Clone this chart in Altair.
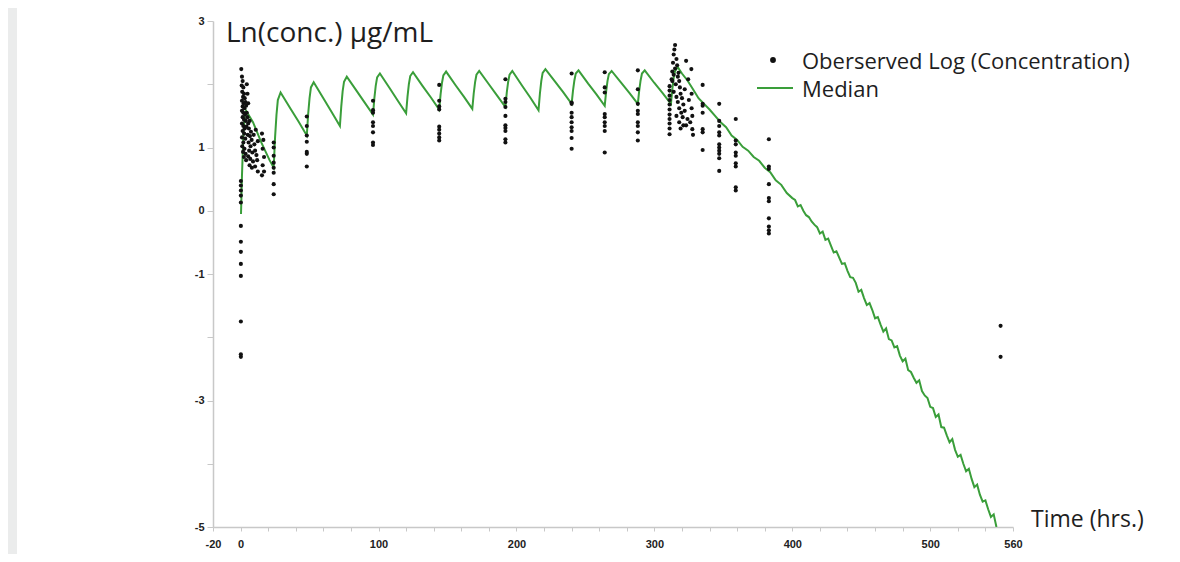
import altair as alt
import pandas as pd

GREEN = "#3a9e3a"
DOT = "#111111"
TXT = "#1e1e1e"

# ---------------- Median curve ----------------
dose_t = [0.3, 1, 2, 3, 4, 9, 15, 21, 24,
          25, 26, 27, 29, 36, 42, 48,
          49, 50, 51, 53, 60, 66, 72,
          73, 74, 75, 77, 84, 90, 96,
          97, 98, 99, 101, 108, 114, 120,
          121, 122, 123, 125, 132, 138, 144,
          145, 146, 147, 149, 156, 162, 168,
          169, 170, 171, 173, 180, 186, 192,
          193, 194, 195, 197, 204, 210, 216,
          217, 218, 219, 221, 228, 234, 240,
          241, 242, 243, 245, 252, 258, 264,
          265, 266, 267, 269, 276, 282, 288,
          289, 290, 291, 293, 300, 306, 312,
          313, 314, 315, 317]
dose_v = [-0.05, 0.55, 1.20, 1.50, 1.58, 1.40, 1.08, 0.80, 0.68,
          1.16, 1.51, 1.75, 1.87, 1.62, 1.41, 1.19,
          1.53, 1.78, 1.95, 2.03, 1.78, 1.56, 1.34,
          1.65, 1.89, 2.04, 2.12, 1.90, 1.71, 1.52,
          1.78, 1.98, 2.11, 2.17, 1.94, 1.74, 1.54,
          1.80, 2.00, 2.13, 2.19, 1.97, 1.79, 1.60,
          1.84, 2.02, 2.14, 2.20, 1.98, 1.80, 1.61,
          1.85, 2.03, 2.15, 2.21, 2.00, 1.82, 1.64,
          1.87, 2.04, 2.15, 2.21, 1.98, 1.79, 1.59,
          1.85, 2.05, 2.18, 2.24, 2.04, 1.87, 1.69,
          1.90, 2.06, 2.17, 2.22, 2.01, 1.84, 1.66,
          1.88, 2.05, 2.16, 2.21, 2.02, 1.86, 1.69,
          1.90, 2.06, 2.17, 2.22, 2.02, 1.86, 1.69,
          1.92, 2.10, 2.21, 2.27]

elim_t = [320, 324, 328, 332, 336, 340, 344, 348, 352, 356,
          360, 364, 368, 372, 376, 380, 384, 388, 392, 396,
          400, 402, 404, 406, 408, 410, 412, 414, 416, 418,
          420, 422, 424, 426, 428, 430, 432, 434, 436, 438,
          440, 442, 444, 446, 448, 450, 452, 454, 456, 458,
          460, 462, 464, 466, 468, 470, 472, 474, 476, 478,
          480, 482, 484, 486, 488, 490, 492, 494, 496, 498,
          500, 502, 504, 506, 508, 510, 512, 514, 516, 518,
          520, 522, 524, 526, 528, 530, 532, 534, 536, 538,
          540, 542, 544, 546, 548]
elim_v = [2.17, 2.06, 1.92, 1.78, 1.69, 1.60, 1.50, 1.40, 1.32, 1.19,
          1.12, 1.01, 0.95, 0.85, 0.79, 0.68, 0.61, 0.48, 0.41, 0.28,
          0.20, 0.17, 0.07, 0.09, 0.00, -0.07, -0.10, -0.17, -0.22, -0.26,
          -0.36, -0.33, -0.46, -0.44, -0.55, -0.66, -0.64, -0.74, -0.84, -0.83,
          -0.95, -1.05, -1.06, -1.14, -1.28, -1.25, -1.38, -1.49, -1.46, -1.57,
          -1.70, -1.68, -1.80, -1.91, -1.86, -2.03, -2.05, -2.16, -2.14, -2.29,
          -2.38, -2.34, -2.52, -2.55, -2.64, -2.72, -2.68, -2.85, -2.92, -2.96,
          -3.10, -3.12, -3.26, -3.22, -3.42, -3.43, -3.55, -3.66, -3.61, -3.78,
          -3.89, -3.86, -4.00, -4.12, -4.08, -4.24, -4.37, -4.33, -4.49, -4.60,
          -4.58, -4.72, -4.84, -4.80, -5.00]

# ---------------- Observed points ----------------
first_t = [0.5, 1.0, 1.5, 0.8, 2.0, 1.2, 2.5, 1.8, 3.0, 1.0, 2.2, 3.5, 1.5, 2.8, 4.0,
           1.0, 2.0, 3.2, 4.5, 1.5, 2.5, 3.8, 1.0, 2.0, 3.0, 4.2, 1.5, 2.6, 1.0, 3.4,
           2.0, 1.2, 2.8, 1.8, 3.6, 2.4, 4.0, 4.5, 5.0, 5.5,
           5.0, 5.5, 6.0, 6.5, 5.2, 6.8, 7.5, 5.8, 7.2, 8.0, 6.2, 8.5, 5.5, 7.0, 9.0,
           6.5, 8.2, 9.5, 10.0, 10.5, 11.0, 11.5, 12.0, 10.5, 12.5, 12.5,
           15.5, 16.5, 16.0, 17.0, 16.0, 17.0, 15.5]
first_v = [2.24, 2.12, 2.05, 1.98, 1.95, 1.88, 1.85, 1.80, 1.78, 1.74, 1.70, 1.72, 1.65, 1.62, 1.66,
           1.58, 1.55, 1.52, 1.55, 1.48, 1.44, 1.42, 1.38, 1.34, 1.30, 1.33, 1.26, 1.22, 1.16, 1.14,
           1.08, 1.02, 0.98, 0.93, 0.90, 0.85, 0.80, 2.00, 1.85, 1.70,
           1.48, 1.38, 1.30, 1.42, 1.20, 1.18, 1.25, 1.08, 1.02, 1.12, 0.95, 0.92, 0.86, 0.82, 0.78,
           0.72, 0.68, 1.20, 1.05, 0.95, 1.28, 0.88, 0.80, 0.70, 1.10, 0.62,
           1.22, 1.12, 0.98, 0.85, 0.72, 0.62, 0.56]

zero_v = [0.47, 0.40, 0.32, 0.24, 0.13, -0.24, -0.49, -0.65, -0.84, -1.03, -1.75, -2.27, -2.31]

column_t = [24, 48, 96, 144, 192, 240, 264, 288, 335, 347, 359, 383, 551]
column_v = [
    [1.08, 1.00, 0.87, 0.76, 0.68, 0.60, 0.42, 0.26],
    [1.49, 1.34, 1.19, 1.09, 0.93, 0.90, 0.70],
    [1.74, 1.59, 1.55, 1.40, 1.34, 1.24, 1.08, 1.04],
    [1.99, 1.74, 1.65, 1.60, 1.33, 1.28, 1.22, 1.16, 1.11],
    [2.08, 1.77, 1.72, 1.64, 1.50, 1.35, 1.31, 1.26, 1.13, 1.08],
    [2.17, 1.71, 1.69, 1.55, 1.48, 1.40, 1.32, 1.26, 1.15, 0.98],
    [2.19, 1.95, 1.87, 1.53, 1.48, 1.40, 1.34, 1.26, 0.92],
    [2.22, 1.92, 1.69, 1.58, 1.53, 1.40, 1.34, 1.24, 1.11],
    [1.99, 1.69, 1.66, 1.55, 1.29, 1.24, 0.96],
    [1.69, 1.42, 1.34, 1.24, 1.19, 1.05, 1.00, 0.95, 0.90, 0.83, 0.63],
    [1.45, 1.11, 1.05, 0.92, 0.87, 0.75, 0.70, 0.37, 0.32],
    [1.13, 0.70, 0.66, 0.42, 0.20, 0.15, -0.12, -0.25, -0.31, -0.36],
    [-1.82, -2.31],
]

last_t = [311, 311, 311, 311, 311, 311, 311, 311, 311, 311, 311,
          313, 314, 315, 314.5, 314, 316, 313.5, 316.5, 315, 313, 317, 312.5, 315.5,
          317.5, 318, 318.5, 314, 316, 319, 317, 320, 318, 321, 319.5, 320.5, 322,
          316, 318, 321, 319,
          323, 326.8, 324.5, 322, 327, 325, 327, 324, 327.5, 327.5, 323, 328, 326]
last_v = [1.21, 1.30, 1.38, 1.45, 1.52, 1.60, 1.68, 1.75, 1.82, 1.90, 1.97,
          2.05, 2.15, 2.62, 2.55, 2.47, 2.40, 2.34, 2.30, 2.25, 2.20, 2.12, 2.08, 2.00,
          2.18, 2.05, 1.95, 1.88, 1.80, 1.85, 1.72, 1.78, 1.62, 1.68, 1.55, 1.48, 1.58,
          1.50, 1.40, 1.35, 1.30,
          2.37, 2.24, 2.08, 1.92, 1.85, 1.75, 1.62, 1.45, 1.50, 1.29, 1.35, 1.20, 1.40]

# ---------------- Build tables ----------------
median_df = pd.DataFrame({"t": dose_t + elim_t, "v": dose_v + elim_v})

obs_rows = []
for t, v in zip(first_t, first_v):
    obs_rows.append({"t": t, "v": v})
for v in zero_v:
    obs_rows.append({"t": 0.2, "v": v})
for t, vals in zip(column_t, column_v):
    for v in vals:
        obs_rows.append({"t": t, "v": v})
for t, v in zip(last_t, last_v):
    obs_rows.append({"t": t, "v": v})
obs_df = pd.DataFrame(obs_rows)

W, H = 800, 506
xs = alt.Scale(domain=[-20, 560], nice=False, zero=False)
ys = alt.Scale(domain=[-5, 3], nice=False, zero=False)

x_ticks = list(range(-20, 561, 20))
y_ticks = [-5, -4, -3, -2, -1, 0, 1, 2, 3]

x_axis = alt.Axis(
    values=x_ticks, title=None, grid=False,
    labelExpr="indexof([-20,0,100,200,300,400,500,560], datum.value) >= 0 ? ('' + datum.value) : ''",
    domainColor="#c8c8c8", domainWidth=1.5, tickColor="#c8c8c8", tickSize=4,
    labelFont="Liberation Sans", labelFontWeight="bold", labelFontSize=11,
    labelColor="#222222", labelPadding=7, labelFlush=False, labelOverlap=False,
    labelBound=False,
)
y_axis = alt.Axis(
    values=y_ticks, title=None, grid=False,
    labelExpr="(datum.value == 2 || datum.value == -2 || datum.value == -4) ? '' : ('' + datum.value)",
    domainColor="#c8c8c8", domainWidth=1.5, tickColor="#c8c8c8", tickSize=6,
    labelFont="Liberation Sans", labelFontWeight="bold", labelFontSize=11,
    labelColor="#222222", labelPadding=3, labelFlush=False, labelOverlap=False,
    labelBound=False,
)

one = pd.DataFrame({"k": [0]})

strip = alt.Chart(one).mark_rect(color="#ebecec").encode(
    x=alt.value(-205), x2=alt.value(-196), y=alt.value(-13), y2=alt.value(533)
)

line = alt.Chart(median_df).mark_line(color=GREEN, strokeWidth=2, clip=True).encode(
    x=alt.X("t:Q", scale=xs, axis=x_axis),
    y=alt.Y("v:Q", scale=ys, axis=y_axis),
)

points = alt.Chart(obs_df).mark_circle(color=DOT, size=17, opacity=1).encode(
    x=alt.X("t:Q", scale=xs, axis=x_axis),
    y=alt.Y("v:Q", scale=ys, axis=y_axis),
)

legend_dot = alt.Chart(one).mark_circle(color=DOT, size=34, opacity=1).encode(
    x=alt.value(560), y=alt.value(39)
)
legend_line = alt.Chart(one).mark_rule(color=GREEN, strokeWidth=2).encode(
    x=alt.value(544), x2=alt.value(580), y=alt.value(67)
)

texts = pd.DataFrame({
    "label": ["Ln(conc.) µg/mL", "Oberserved Log (Concentration)", "Median", "Time (hrs.)"],
    "px": [13, 589, 589, 818],
    "py": [21, 48, 76, 506],
    "fs": [28, 22, 22, 23],
})
text_layer = alt.Chart(texts).mark_text(
    align="left", baseline="alphabetic", font="Open Sans", color=TXT
).encode(
    x=alt.X("px:Q", scale=None),
    y=alt.Y("py:Q", scale=None),
    text="label:N",
    size=alt.Size("fs:Q", scale=None, legend=None),
)

chart = alt.layer(strip, line, points, legend_dot, legend_line, text_layer).properties(
    width=W, height=H,
    padding={"left": 205, "top": 13, "right": 159, "bottom": 27},
    autosize=alt.AutoSizeParams(type="none"),
    background="white",
).configure_view(stroke=None)

chart.save("out.html", embed_options={"renderer": "svg", "actions": False})
